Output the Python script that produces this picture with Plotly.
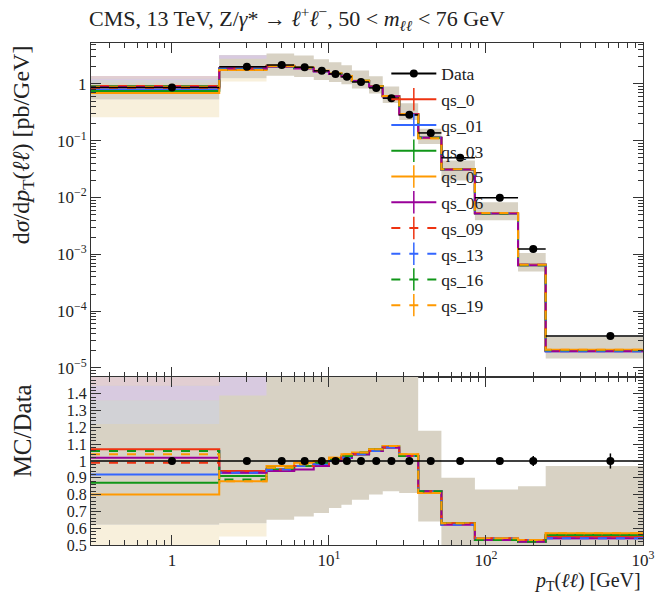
import math
import plotly.graph_objects as go

# ---------------- data ----------------
bin_edges = [0, 2, 4, 6, 8, 10, 12, 14, 18, 22, 28, 37, 52, 85, 160, 240, 1000]
bin_centers = [1, 3, 5, 7, 9, 11, 13, 16, 20, 25, 32.5, 44.5, 68.5, 122.5, 200, 620]
data_values = [0.86, 2.0, 2.15, 1.97, 1.7, 1.5, 1.33, 1.08, 0.85, 0.56, 0.285,
               0.137, 0.050, 0.0099, 0.00124, 3.65e-5]
data_relerr = [0.01, 0.01, 0.01, 0.01, 0.01, 0.01, 0.01, 0.01, 0.01, 0.01, 0.01,
               0.01, 0.012, 0.015, 0.03, 0.045]

series_names = ["qs_0", "qs_01", "qs_03", "qs_05", "qs_06", "qs_09", "qs_13", "qs_16", "qs_19"]
ratio_qs_0 = [1.07, 0.94, 0.94, 0.97, 0.99, 1.00, 1.02, 1.04, 1.06, 1.08, 1.03, 0.82, 0.63, 0.54, 0.53, 0.55]
ratio_qs_01 = [0.92, 0.93, 0.95, 0.97, 0.98, 1.00, 1.02, 1.04, 1.06, 1.08, 1.03, 0.82, 0.63, 0.54, 0.53, 0.54]
ratio_qs_03 = [0.87, 0.91, 0.95, 0.97, 0.99, 1.01, 1.03, 1.04, 1.07, 1.09, 1.03, 0.82, 0.63, 0.53, 0.52, 0.56]
ratio_qs_05 = [0.80, 0.88, 0.97, 0.99, 1.00, 1.02, 1.04, 1.05, 1.07, 1.09, 1.04, 0.81, 0.63, 0.54, 0.53, 0.57]
ratio_qs_06 = [1.02, 0.93, 0.94, 0.95, 0.97, 1.00, 1.02, 1.04, 1.06, 1.08, 1.03, 0.82, 0.62, 0.53, 0.52, 0.54]
ratio_qs_09 = [0.99, 0.94, 0.95, 0.97, 0.98, 1.00, 1.02, 1.04, 1.06, 1.08, 1.03, 0.82, 0.63, 0.54, 0.53, 0.55]
ratio_qs_13 = [1.06, 0.93, 0.95, 0.97, 0.98, 1.00, 1.02, 1.04, 1.06, 1.08, 1.03, 0.82, 0.62, 0.54, 0.53, 0.54]
ratio_qs_16 = [1.06, 0.89, 0.96, 0.98, 0.99, 1.01, 1.03, 1.05, 1.07, 1.09, 1.03, 0.82, 0.63, 0.53, 0.52, 0.56]
ratio_qs_19 = [1.04, 0.88, 0.96, 0.98, 1.00, 1.02, 1.04, 1.05, 1.07, 1.09, 1.04, 0.81, 0.63, 0.54, 0.53, 0.57]

# MC uncertainty bands (relative to data)
band_lo = [0.62, 0.63, 0.65, 0.67, 0.69, 0.72, 0.74, 0.77, 0.80, 0.82, 0.81, 0.64, 0.40, 0.40, 0.40, 0.40]
band_hi = [1.60, 1.60, 1.60, 1.60, 1.60, 1.60, 1.60, 1.60, 1.60, 1.60, 1.60, 1.18, 0.90, 0.83, 0.85, 0.97]
cream_lo = [0.30, 0.55, None, None, None, None, None, None, None, None, None, None, None, None, None, None]
cream_hi = [0.62, 0.63, None, None, None, None, None, None, None, None, None, None, None, None, None, None]
grey_lo = [1.22, None, None, None, None, None, None, None, None, None, None, None, None, None, None, None]
grey_hi = [1.36, None, None, None, None, None, None, None, None, None, None, None, None, None, None, None]
purple_lo = [1.36, 1.39, None, None, None, None, None, None, None, None, None, None, None, None, None, None]
purple_hi = [1.45, 1.60, None, None, None, None, None, None, None, None, None, None, None, None, None, None]
pink_lo = [1.45, None, None, None, None, None, None, None, None, None, None, None, None, None, None, None]
pink_hi = [1.60, None, None, None, None, None, None, None, None, None, None, None, None, None, None, None]

x_tick_vals = [1, 10, 100, 1000]
x_tick_text = ["1", "10<sup>1</sup>", "10<sup>2</sup>", "10<sup>3</sup>"]
y_tick_vals = [1, 1e-1, 1e-2, 1e-3, 1e-4, 1e-5]
y_tick_text = ["1", "10<sup>−1</sup>", "10<sup>−2</sup>", "10<sup>−3</sup>", "10<sup>−4</sup>", "10<sup>−5</sup>"]
r_tick_vals = [0.5, 0.6, 0.7, 0.8, 0.9, 1.0, 1.1, 1.2, 1.3, 1.4]
r_tick_text = ["0.5", "0.6", "0.7", "0.8", "0.9", "1", "1.1", "1.2", "1.3", "1.4"]

# ---------------- style ----------------
XMIN = 0.305
colors = ["#EE3311", "#3366FF", "#109618", "#FF9900", "#990099",
          "#EE3311", "#3366FF", "#109618", "#FF9900"]
dashes = ["solid"] * 5 + ["dash"] * 4
FONT = "Liberation Serif"

ratios = [ratio_qs_0, ratio_qs_01, ratio_qs_03, ratio_qs_05, ratio_qs_06,
          ratio_qs_09, ratio_qs_13, ratio_qs_16, ratio_qs_19]

edges_plot = [max(e, XMIN) for e in bin_edges]


def band_polygon(lo, hi, scale):
    polys = []
    cur = None
    for i in range(len(lo)):
        if lo[i] is None:
            if cur:
                polys.append(cur)
                cur = None
            continue
        if cur is None:
            cur = ([], [], [], [])
        s = scale[i] if scale else 1.0
        cur[0].extend([edges_plot[i], edges_plot[i + 1]])
        cur[1].extend([hi[i] * s, hi[i] * s])
        cur[2].extend([edges_plot[i], edges_plot[i + 1]])
        cur[3].extend([lo[i] * s, lo[i] * s])
    if cur:
        polys.append(cur)
    X, Y = [], []
    for p in polys:
        X += p[0] + p[2][::-1] + [p[0][0], None]
        Y += p[1] + p[3][::-1] + [p[1][0], None]
    return X, Y


fig = go.Figure()

band_layers = [
    (cream_lo, cream_hi, "rgba(248,240,220,1)"),
    (band_lo, band_hi, "rgba(216,210,196,1)"),
    (grey_lo, grey_hi, "rgba(210,210,214,1)"),
    (purple_lo, purple_hi, "rgba(216,202,224,1)"),
    (pink_lo, pink_hi, "rgba(226,206,210,1)"),
]

for ax_x, ax_y, scale in [("x", "y", data_values), ("x2", "y2", None)]:
    for lo, hi, col in band_layers:
        X, Y = band_polygon(lo, hi, scale)
        fig.add_trace(go.Scatter(x=X, y=Y, fill="toself", fillcolor=col, mode="lines",
                                 line=dict(width=0), showlegend=False, hoverinfo="skip",
                                 xaxis=ax_x, yaxis=ax_y))

# MC lines
for name, r, c, d in zip(series_names, ratios, colors, dashes):
    mc = [rv * dv for rv, dv in zip(r, data_values)]
    fig.add_trace(go.Scatter(x=edges_plot, y=mc + [mc[-1]], mode="lines", line_shape="hv",
                             line=dict(color=c, width=2, dash=d), showlegend=False,
                             xaxis="x", yaxis="y"))
    fig.add_trace(go.Scatter(x=edges_plot, y=r + [r[-1]], mode="lines", line_shape="hv",
                             line=dict(color=c, width=2, dash=d), showlegend=False,
                             xaxis="x2", yaxis="y2"))

# Data (top)
err_plus = [bin_edges[i + 1] - bin_centers[i] for i in range(len(bin_centers))]
err_minus = [bin_centers[i] - edges_plot[i] for i in range(len(bin_centers))]
fig.add_trace(go.Scatter(
    x=bin_centers, y=data_values, mode="markers",
    marker=dict(color="black", size=8),
    error_x=dict(type="data", array=err_plus, arrayminus=err_minus, color="black", thickness=1.5, width=0),
    error_y=dict(type="data", array=[v * e for v, e in zip(data_values, data_relerr)],
                 color="black", thickness=1.5, width=0),
    showlegend=False, xaxis="x", yaxis="y"))

# Data (ratio)
ones = [1.0] * len(bin_centers)
fig.add_trace(go.Scatter(x=edges_plot, y=ones + [1.0], mode="lines", line_shape="hv",
                         line=dict(color="black", width=1.5), showlegend=False,
                         xaxis="x2", yaxis="y2"))
fig.add_trace(go.Scatter(
    x=bin_centers, y=ones, mode="markers", marker=dict(color="black", size=8),
    error_y=dict(type="data", array=data_relerr, color="black", thickness=1.5, width=0),
    showlegend=False, xaxis="x2", yaxis="y2"))

# Legend entries
fig.add_trace(go.Scatter(x=[None], y=[None], mode="lines+markers", name="Data",
                         line=dict(color="black", width=2),
                         marker=dict(color="black", size=8), xaxis="x", yaxis="y"))
for name, c, d in zip(series_names, colors, dashes):
    fig.add_trace(go.Scatter(x=[None], y=[None], mode="lines+markers", name=name,
                             line=dict(color=c, width=2, dash=d),
                             marker=dict(symbol="line-ns", size=16, line=dict(color=c, width=1.5)),
                             xaxis="x", yaxis="y"))

# ---------------- layout ----------------
W, H = 667, 596
L, R, T, B = 91, 17, 43, 51
PH = H - T - B
split = (545 - 377) / PH


def minor_log(lo_exp, hi_exp):
    return [k * 10 ** e for e in range(lo_exp, hi_exp) for k in range(2, 10)]


axis_common = dict(showline=True, linecolor="#333", linewidth=1, mirror="allticks",
                   ticks="inside", ticklen=10, tickcolor="#333", showgrid=False, zeroline=False)

fig.update_layout(
    width=W, height=H,
    margin=dict(l=L, r=R, t=T, b=B),
    paper_bgcolor="white", plot_bgcolor="white",
    font=dict(family=FONT, size=17, color="#222"),
    xaxis=dict(type="log", range=[math.log10(XMIN), 3], domain=[0, 1], anchor="y",
               tickvals=x_tick_vals, showticklabels=False,
               minor=dict(ticks="inside", ticklen=5, tickcolor="#333", tickvals=minor_log(-1, 3)),
               **axis_common),
    yaxis=dict(type="log", range=[-5.16, 0.72], domain=[split, 1], anchor="x",
               tickvals=y_tick_vals, ticktext=y_tick_text,
               minor=dict(ticks="inside", ticklen=5, tickcolor="#333", tickvals=minor_log(-6, 1)),
               **axis_common),
    xaxis2=dict(type="log", range=[math.log10(XMIN), 3], domain=[0, 1], anchor="y2",
                tickvals=x_tick_vals, ticktext=x_tick_text,
                minor=dict(ticks="inside", ticklen=5, tickcolor="#333", tickvals=minor_log(-1, 3)),
                **axis_common),
    yaxis2=dict(range=[0.5, 1.5], domain=[0, split], anchor="x2",
                tickvals=r_tick_vals, ticktext=r_tick_text, tickfont=dict(size=16),
                minor=dict(ticks="inside", ticklen=5, tickcolor="#333", dtick=0.02),
                **axis_common),
    legend=dict(x=0.535, y=0.975, xanchor="left", yanchor="top", bgcolor="rgba(0,0,0,0)",
                font=dict(family=FONT, size=17.5, color="#222"), itemwidth=45,
                tracegroupgap=0),
    showlegend=True,
)

fig.add_annotation(text="CMS, 13 TeV, Z/<i>γ</i>* → <i>ℓ</i><sup>+</sup><i>ℓ</i><sup>−</sup>, 50 &lt; <i>m</i><sub><i>ℓℓ</i></sub> &lt; 76 GeV",
                   xref="paper", yref="paper", x=-0.007, y=1.0 + 25 / PH,
                   xanchor="left", yanchor="middle", showarrow=False,
                   font=dict(family=FONT, size=22, color="#222"))
fig.add_annotation(text="d<i>σ</i>/d<i>p</i><sub>T</sub>(<i>ℓℓ</i>) [pb/GeV]",
                   xref="paper", yref="paper", x=-69 / (W - L - R), y=1.0,
                   xanchor="center", yanchor="top", textangle=-90, showarrow=False,
                   font=dict(family=FONT, size=24, color="#222"))
fig.add_annotation(text="MC/Data",
                   xref="paper", yref="paper", x=-69 / (W - L - R), y=split - 5 / PH,
                   xanchor="center", yanchor="top", textangle=-90, showarrow=False,
                   font=dict(family=FONT, size=25, color="#222"))
fig.add_annotation(text="<i>p</i><sub>T</sub>(<i>ℓℓ</i>) [GeV]",
                   xref="paper", yref="paper", x=1.0, y=-36 / PH,
                   xanchor="right", yanchor="middle", showarrow=False,
                   font=dict(family=FONT, size=20, color="#222"))

fig.write_html("out.html")
